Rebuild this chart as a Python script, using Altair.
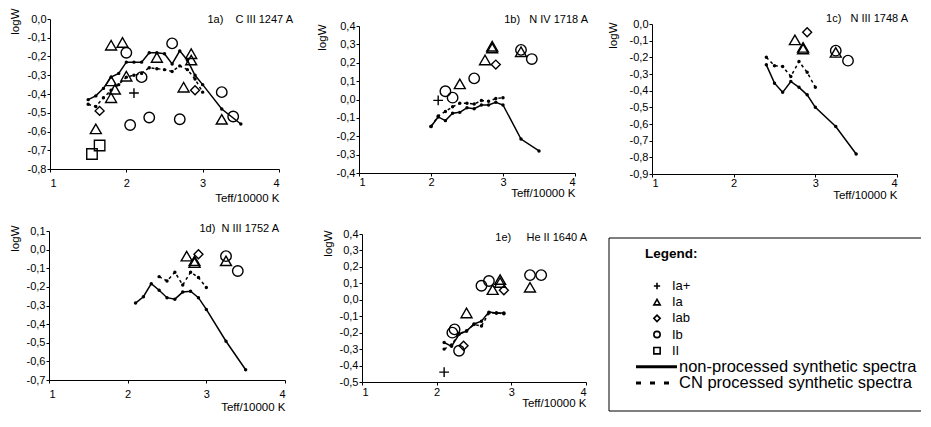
import altair as alt
import pandas as pd

FONT = "Liberation Sans"
PLUS = "M-1,0L1,0M0,-1L0,1"

# ---------------- Panel 1a: C III 1247 A ----------------
a_solid_t = [1.5, 1.6, 1.7, 1.8, 1.9, 2.0, 2.1, 2.2, 2.3, 2.4, 2.5, 2.6, 2.7, 2.8, 2.9, 3.0, 3.25, 3.5]
a_solid_w = [-0.43, -0.41, -0.37, -0.31, -0.29, -0.23, -0.23, -0.23, -0.18, -0.18, -0.185, -0.24, -0.17, -0.22, -0.30, -0.35, -0.48, -0.56]
a_cn_t = [1.5, 1.6, 1.7, 1.8, 1.9, 2.0, 2.1, 2.2, 2.3, 2.4, 2.5, 2.6, 2.7, 2.8, 2.9, 3.0]
a_cn_w = [-0.455, -0.467, -0.42, -0.38, -0.35, -0.31, -0.30, -0.29, -0.26, -0.265, -0.27, -0.28, -0.25, -0.27, -0.32, -0.39]
a_obs = {
    "Ia+": [(2.1, -0.395)],
    "Ia": [(1.8, -0.14), (1.95, -0.125), (2.0, -0.305), (1.8, -0.33), (1.85, -0.375), (1.8, -0.42),
           (1.6, -0.586), (2.4, -0.205), (2.75, -0.364), (2.85, -0.185), (2.85, -0.219), (3.25, -0.535)],
    "Iab": [(1.65, -0.49), (2.9, -0.38)],
    "Ib": [(2.0, -0.18), (2.2, -0.31), (2.05, -0.565), (2.3, -0.525), (2.6, -0.13), (2.7, -0.535),
           (3.25, -0.39), (3.4, -0.52)],
    "II": [(1.55, -0.72), (1.65, -0.675)],
}

# ---------------- Panel 1b: N IV 1718 A ----------------
b_solid_t = [2.0, 2.1, 2.2, 2.3, 2.4, 2.5, 2.6, 2.7, 2.8, 2.9, 3.0, 3.25, 3.5]
b_solid_w = [-0.147, -0.095, -0.115, -0.075, -0.07, -0.045, -0.05, -0.03, -0.03, -0.015, -0.03, -0.215, -0.28]
b_cn_t = [2.0, 2.1, 2.2, 2.3, 2.4, 2.5, 2.6, 2.7, 2.8, 2.9, 3.0]
b_cn_w = [-0.147, -0.09, -0.065, -0.04, -0.02, -0.02, -0.025, -0.005, -0.01, 0.005, 0.01]
b_obs = {
    "Ia+": [(2.1, -0.005)],
    "Ia": [(2.4, 0.085), (2.75, 0.215), (2.85, 0.29), (2.85, 0.28), (3.25, 0.26)],
    "Iab": [(2.9, 0.19)],
    "Ib": [(2.2, 0.045), (2.3, 0.01), (2.6, 0.115), (3.25, 0.27), (3.4, 0.22)],
}

# ---------------- Panel 1c: N III 1748 A ----------------
c_solid_t = [2.4, 2.5, 2.6, 2.7, 2.8, 2.9, 3.0, 3.25, 3.5]
c_solid_w = [-0.245, -0.355, -0.41, -0.345, -0.38, -0.425, -0.5, -0.615, -0.78]
c_cn_t = [2.4, 2.5, 2.6, 2.7, 2.8, 2.9, 3.0]
c_cn_w = [-0.2, -0.25, -0.255, -0.315, -0.225, -0.29, -0.38]
c_obs = {
    "Ia": [(2.75, -0.095), (2.85, -0.14), (2.85, -0.15), (3.25, -0.17)],
    "Iab": [(2.9, -0.05)],
    "Ib": [(3.25, -0.16), (3.4, -0.22)],
}

# ---------------- Panel 1d: N III 1752 A ----------------
d_solid_t = [2.1, 2.2, 2.3, 2.4, 2.5, 2.6, 2.7, 2.8, 2.9, 3.0, 3.25, 3.5]
d_solid_w = [-0.287, -0.253, -0.183, -0.218, -0.258, -0.266, -0.228, -0.223, -0.258, -0.321, -0.492, -0.645]
d_cn_t = [2.4, 2.5, 2.6, 2.7, 2.8, 2.9, 3.0]
d_cn_w = [-0.145, -0.168, -0.121, -0.19, -0.121, -0.15, -0.203]
d_obs = {
    "Ia": [(2.75, -0.035), (2.85, -0.06), (2.85, -0.07), (3.25, -0.06)],
    "Iab": [(2.9, -0.025)],
    "Ib": [(3.25, -0.035), (3.4, -0.115)],
}

# ---------------- Panel 1e: He II 1640 A ----------------
e_solid_t = [2.1, 2.2, 2.3, 2.4, 2.5, 2.6, 2.7, 2.8, 2.9]
e_solid_w = [-0.26, -0.283, -0.21, -0.19, -0.147, -0.13, -0.075, -0.08, -0.08]
e_cn_t = [2.1, 2.2, 2.3, 2.4, 2.5, 2.6, 2.7, 2.8, 2.9]
e_cn_w = [-0.30, -0.275, -0.205, -0.19, -0.15, -0.16, -0.08, -0.08, -0.085]
e_obs = {
    "Ia+": [(2.1, -0.44)],
    "Ia": [(2.4, -0.08), (2.75, 0.062), (2.85, 0.123), (2.85, 0.105), (3.25, 0.076)],
    "Iab": [(2.36, -0.28), (2.9, 0.058)],
    "Ib": [(2.24, -0.18), (2.21, -0.2), (2.3, -0.31), (2.6, 0.085), (2.7, 0.114), (3.25, 0.15), (3.4, 0.15)],
}

# ---------------- legend ----------------
CLASSES = ["Ia+", "Ia", "Iab", "Ib", "II"]
LINE_LABELS = ["non-processed synthetic spectra", "CN processed synthetic spectra"]

SHAPES = [PLUS, "triangle-up", "diamond", "circle", "square"]
SIZES = [95, 120, 80, 110, 110]

LABEL_EXPR = "(datum.value < -0.001 ? '-' : '') + replace(format(abs(datum.value), '.1f'), '.', ',')"

CW, CH = 300, 202  # grid cell size


def panel(title, solid_t, solid_w, cn_t, cn_w, obs, ydom, xr, yr,
          lab_pad, xt_y, yt_x, yt_y, tx, ty):
    n = int(round((ydom[1] - ydom[0]) / 0.1))
    yticks = [round(ydom[0] + 0.1 * i, 1) for i in range(n + 1)]
    X = alt.X("t:Q", scale=alt.Scale(domain=[1, 4], range=xr, nice=False, zero=False),
              axis=alt.Axis(values=[1, 2, 3, 4], format="d", title="Teff/10000 K",
                            offset=-(CH - yr[0]), titleFontWeight=400, titleFontSize=11.5,
                            labelPadding=lab_pad, titleY=xt_y, titleX=xr[1], titleAnchor="end",
                            titleAlign="right", titleBaseline="middle"))
    Y = alt.Y("w:Q", scale=alt.Scale(domain=ydom, range=yr, nice=False, zero=False),
              axis=alt.Axis(values=yticks, labelExpr=LABEL_EXPR, title="logW",
                            offset=-xr[0], titleFontWeight=400, titleFontSize=11.5,
                            titleAnchor="end", titleX=yt_x, titleY=yr[1] + yt_y))
    solid = pd.DataFrame({"t": solid_t, "w": solid_w})
    cn = pd.DataFrame({"t": cn_t, "w": cn_w})
    layers = [
        alt.Chart(solid).mark_line(color="black", strokeWidth=1.5).encode(x=X, y=Y),
        alt.Chart(solid).mark_point(filled=True, color="black", size=12, opacity=1).encode(x=X, y=Y),
        alt.Chart(cn).mark_line(color="black", strokeWidth=1.5, strokeDash=[3, 3]).encode(x=X, y=Y),
        alt.Chart(cn).mark_point(filled=True, color="black", size=12, opacity=1).encode(x=X, y=Y),
    ]
    for cls, shape, size in zip(CLASSES, SHAPES, SIZES):
        pts = obs.get(cls)
        if pts:
            df = pd.DataFrame(pts, columns=["t", "w"])
            layers.append(
                alt.Chart(df).mark_point(shape=shape, size=size, filled=False, color="black",
                                         strokeWidth=1.4, opacity=1).encode(x=X, y=Y))
    layers.append(
        alt.Chart(pd.DataFrame({"s": [title]})).mark_text(
            align="right", baseline="middle", fontSize=11, font=FONT, color="black"
        ).encode(x=alt.value(xr[1] + tx), y=alt.value(yr[1] + ty), text="s:N"))
    return alt.layer(*layers).properties(width=CW, height=CH)


NB = "\u00a0"
pa = panel("1a)" + NB * 4 + "C III 1247 A", a_solid_t, a_solid_w, a_cn_t, a_cn_w, a_obs,
           [-0.8, 0.0], [42, 271], [161, 11], 5, 29, -30, -11, 14, 1)
pb = panel("1b)" + NB * 3 + "N IV 1718 A", b_solid_t, b_solid_w, b_cn_t, b_cn_w, b_obs,
           [-0.4, 0.4], [51, 267], [165, 18], 0, 20, -32, -2, 13, -6)
pc = panel("1c)" + NB * 3 + "N III 1748 A", c_solid_t, c_solid_w, c_cn_t, c_cn_w, c_obs,
           [-0.9, 0.0], [44, 289], [166, 16], 0, 21, -34, -2, 11, -5)
pdd = panel("1d)" + NB * 2 + "N III 1752 A", d_solid_t, d_solid_w, d_cn_t, d_cn_w, d_obs,
            [-0.7, 0.1], [41, 277], [170, 21], 5, 27, -29, -6, -6, -2)
pe = panel("1e)" + NB * 5 + "He II 1640 A", e_solid_t, e_solid_w, e_cn_t, e_cn_w, e_obs,
           [-0.5, 0.4], [54, 278], [172, 24], 1.5, 21.5, -29, -4, 1, 4)

# legend panel (frame runs off the right edge like the reference, clipped to the view)
LEG_W = 313
LX, LT, LR, LB = 1, 28, 360, 201
one = pd.DataFrame({"z": [0]})
sym_df = pd.DataFrame({"item": CLASSES})
line_df = pd.DataFrame({"item": LINE_LABELS})
LY = alt.Y("item:N", scale=alt.Scale(type="point", domain=CLASSES + LINE_LABELS,
                                     range=[LT + 48, LT + 145], padding=0), axis=None)
legend = alt.layer(
    alt.Chart(one).mark_rule(color="black", strokeWidth=1, clip=True).encode(
        x=alt.value(LX), x2=alt.value(LR), y=alt.value(LT), y2=alt.value(LT)),
    alt.Chart(one).mark_rule(color="black", strokeWidth=1, clip=True).encode(
        x=alt.value(LX), x2=alt.value(LX), y=alt.value(LT), y2=alt.value(LB)),
    alt.Chart(one).mark_rule(color="black", strokeWidth=1, clip=True).encode(
        x=alt.value(LX), x2=alt.value(LR), y=alt.value(LB), y2=alt.value(LB)),
    alt.Chart(pd.DataFrame({"s": ["Legend:"]})).mark_text(
        align="left", baseline="middle", fontSize=13.5, fontWeight="bold", font=FONT, color="black"
    ).encode(x=alt.value(LX + 36), y=alt.value(LT + 16), text="s:N"),
    alt.Chart(sym_df).mark_point(filled=False, color="black", size=40, strokeWidth=1.6, opacity=1).encode(
        x=alt.value(LX + 48), y=LY,
        shape=alt.Shape("item:N", scale=alt.Scale(domain=CLASSES, range=SHAPES), legend=None)),
    alt.Chart(sym_df).mark_text(align="left", baseline="middle", fontSize=13, font=FONT, color="black").encode(
        x=alt.value(LX + 63), y=LY, text="item:N"),
    alt.Chart(line_df).mark_rule(color="black", strokeWidth=3).encode(
        x=alt.value(LX + 27), x2=alt.value(LX + 68), y=LY,
        strokeDash=alt.StrokeDash("item:N", scale=alt.Scale(domain=LINE_LABELS, range=[[1, 0], [5, 9]]),
                                  legend=None)),
    alt.Chart(line_df).mark_text(align="left", baseline="middle", fontSize=16.5, font=FONT, color="black").encode(
        x=alt.value(LX + 70), y=LY, text="item:N"),
).properties(width=LEG_W, height=CH)

chart = alt.concat(pa, pb, pc, pdd, pe, legend, columns=3, spacing=0, bounds="flush",
                   align="each").properties(
    padding={"left": 0, "top": 0, "right": 0, "bottom": 0}
).configure(font=FONT, background="white").configure_view(stroke=None).configure_axis(
    domainColor="black", tickColor="black", labelColor="black", titleColor="black",
    labelFont=FONT, titleFont=FONT, labelFontSize=11, titleFontSize=11.5,
    titleFontWeight=400, grid=False, tickSize=3, domainWidth=1, tickWidth=1,
    labelPadding=1)

chart.save("out.html", embed_options={"renderer": "svg", "actions": False})
